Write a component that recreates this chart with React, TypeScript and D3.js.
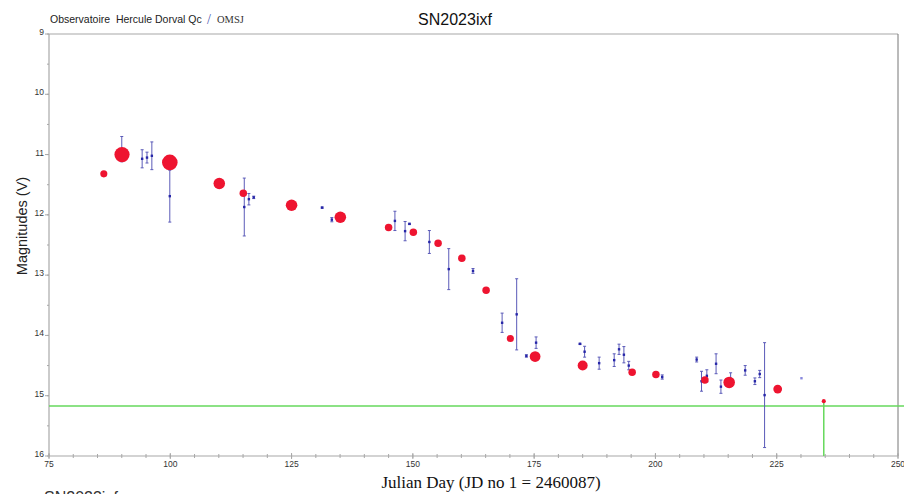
import React from "react";
import * as d3 from "d3";

// ---- Data ----
// Red points (main series): Julian day offset, V magnitude, weight (marker size)
const redDays = [86.3, 90.05, 99.9, 110.1, 115.05, 125.0, 135.05, 145.0, 150.1, 155.2, 160.1, 165.1, 170.1, 175.2, 185.0, 195.2, 200.1, 210.2, 215.2, 225.2, 234.7];
const redMags = [11.32, 11.0, 11.13, 11.48, 11.64, 11.84, 12.04, 12.21, 12.29, 12.47, 12.72, 13.25, 14.05, 14.35, 14.5, 14.61, 14.65, 14.74, 14.78, 14.89, 15.09];
const redWeights = [0.85, 3.9, 4.1, 2.25, 0.95, 2.25, 2.25, 0.95, 0.95, 0.95, 0.95, 0.95, 0.85, 1.95, 1.7, 0.95, 0.95, 0.95, 2.25, 1.3, 0.28];

// Blue points (other observers) with error bars
const blueDays = [90.0, 94.2, 95.2, 96.2, 99.9, 115.25, 116.2, 117.2, 131.3, 133.3, 146.3, 148.4, 149.3, 153.4, 157.4, 162.4, 168.4, 171.4, 173.4, 175.4, 184.45, 185.4, 188.4, 191.5, 192.5, 193.5, 194.5, 201.4, 208.5, 209.5, 210.6, 212.5, 213.5, 215.5, 218.5, 220.5, 221.5, 222.5, 230.1];
const blueMags = [10.91, 11.07, 11.05, 11.02, 11.69, 11.87, 11.74, 11.71, 11.88, 12.08, 12.1, 12.27, 12.15, 12.45, 12.9, 12.93, 13.79, 13.65, 14.34, 14.12, 14.14, 14.27, 14.46, 14.41, 14.23, 14.32, 14.5, 14.69, 14.4, 14.76, 14.67, 14.47, 14.85, 14.72, 14.58, 14.76, 14.64, 14.99, 14.71];
const blueErrs = [0.21, 0.15, 0.09, 0.23, 0.43, 0.48, 0.095, 0.02, 0.01, 0.035, 0.16, 0.16, 0.01, 0.19, 0.34, 0.04, 0.16, 0.59, 0.02, 0.095, 0.01, 0.09, 0.1, 0.105, 0.085, 0.135, 0.07, 0.035, 0.04, 0.165, 0.1, 0.165, 0.11, 0.1, 0.08, 0.055, 0.06, 0.87, 0];

const limitMag = 15.17;
const limitDay = 234.7;

const xMajorTicks = [75, 100, 125, 150, 175, 200, 225, 250];
const yMajorTicks = [9, 10, 11, 12, 13, 14, 15, 16];

const titleLeft = "Observatoire  Hercule Dorval Qc";
const titleOrg = "OMSJ";
const titleMain = "SN2023ixf";
const yLabel = "Magnitudes (V)";
const xLabel = "Julian Day (JD no 1 = 2460087)";
const footLabel = "SN2023ixf";

export default function App() {
  const W = 904, H = 494;
  const x = d3.scaleLinear().domain([75, 250]).range([49, 898]);
  const y = d3.scaleLinear().domain([9, 16]).range([34, 456]);
  const r = d3.scaleSqrt().domain([0, 4]).range([0, 7.7]);

  const xMinor = d3.range(75, 251, 5);
  const yMinor = d3.range(9, 16.01, 0.5);
  const axisColor = "#a8a8a8";
  const tickFont = "'Liberation Sans Narrow', 'Liberation Sans', Arial, sans-serif";

  const blue = blueDays.map((d, i) => ({ d, m: blueMags[i], e: blueErrs[i] }));
  const red = redDays.map((d, i) => ({ d, m: redMags[i], w: redWeights[i] }));

  return (
    <svg width={W} height={H} style={{ position: "absolute", left: 0, top: 0, background: "#fff" }}>
      <rect x={0} y={0} width={W} height={H} fill="#fff" />
      {/* titles */}
      <text x={50} y={22.5} fontFamily="'Liberation Sans', Arial, sans-serif" fontSize={10.5} fill="#222" style={{ whiteSpace: "pre" }}>{titleLeft}</text>
      <text x={207} y={24} fontFamily="'Liberation Serif', serif" fontSize={14} fill="#4a55b0">/</text>
      <text x={217} y={23} fontFamily="'Liberation Serif', serif" fontSize={10.5} fill="#333">{titleOrg}</text>
      <text x={455} y={25} textAnchor="middle" fontFamily="'Liberation Sans', Arial, sans-serif" fontSize={16} fill="#111">{titleMain}</text>

      {/* frame */}
      <line x1={x(75)} x2={x(250)} y1={y(9)} y2={y(9)} stroke={axisColor} strokeWidth={1.2} />
      <line x1={x(250)} x2={x(250)} y1={y(9)} y2={y(16)} stroke="#777" strokeWidth={1} />
      <line x1={x(75)} x2={x(75)} y1={y(9)} y2={y(16)} stroke={axisColor} strokeWidth={1.2} />
      <line x1={x(75)} x2={x(250)} y1={y(16)} y2={y(16)} stroke={axisColor} strokeWidth={1.2} />

      {/* x ticks */}
      {xMinor.map((t) => (
        <line key={"xm" + t} x1={x(t)} x2={x(t)} y1={y(16) - 2} y2={y(16) + 2} stroke={axisColor} strokeWidth={1} />
      ))}
      {xMajorTicks.map((t) => (
        <g key={"xt" + t}>
          <line x1={x(t)} x2={x(t)} y1={y(16) - 3} y2={y(16) + 3} stroke={axisColor} strokeWidth={1} />
          <text x={x(t)} y={467} textAnchor="middle" fontFamily={tickFont} fontSize={8.5} fill="#333">{t}</text>
        </g>
      ))}
      {/* y ticks */}
      {yMinor.map((t) => (
        <line key={"ym" + t} x1={x(75) - 2} x2={x(75)} y1={y(t)} y2={y(t)} stroke={axisColor} strokeWidth={1} />
      ))}
      {yMajorTicks.map((t) => (
        <g key={"yt" + t}>
          <line x1={x(75) - 4} x2={x(75)} y1={y(t)} y2={y(t)} stroke={axisColor} strokeWidth={1} />
          <text x={44} y={y(t) + 1} textAnchor="end" fontFamily={tickFont} fontSize={8.5} fill="#333">{t}</text>
        </g>
      ))}

      {/* axis labels */}
      <text transform={`translate(27,${226}) rotate(-90)`} textAnchor="middle" fontFamily="'Liberation Sans', Arial, sans-serif" fontSize={14.5} fill="#222">{yLabel}</text>
      <text x={491} y={488} textAnchor="middle" fontFamily="'Liberation Serif', 'Times New Roman', serif" fontSize={17} fill="#111">{xLabel}</text>
      <text x={44} y={503} fontFamily="'Liberation Sans', Arial, sans-serif" fontSize={16} fill="#333">{footLabel}</text>

      {/* limit lines */}
      <line x1={x(75)} x2={W} y1={y(limitMag)} y2={y(limitMag)} stroke="#66d95c" strokeWidth={1.5} />
      <line x1={x(limitDay)} x2={x(limitDay)} y1={y(redMags[redMags.length - 1])} y2={y(16)} stroke="#66d95c" strokeWidth={1.5} />

      {/* blue error bars */}
      {blue.map((p, i) => {
        const cx = x(p.d);
        const y1 = y(p.m - p.e), y2 = y(p.m + p.e);
        return (
          <g key={"b" + i}>
            {p.e > 0.005 && (
              <>
                <line x1={cx} x2={cx} y1={y1} y2={y2} stroke="#5a5ab8" strokeWidth={1} />
                <line x1={cx - 1.5} x2={cx + 1.5} y1={y1} y2={y1} stroke="#5a5ab8" strokeWidth={1} />
                <line x1={cx - 1.5} x2={cx + 1.5} y1={y2} y2={y2} stroke="#5a5ab8" strokeWidth={1} />
              </>
            )}
            <rect x={cx - 1.2} y={y(p.m) - 1.2} width={2.4} height={2.4} fill={i === blue.length - 1 ? "#8888dd" : "#2626a8"} />
          </g>
        );
      })}

      {/* red points */}
      {red.map((p, i) => (
        <circle key={"r" + i} cx={x(p.d)} cy={y(p.m)} r={r(p.w)} fill="#ee1430" />
      ))}
    </svg>
  );
}
